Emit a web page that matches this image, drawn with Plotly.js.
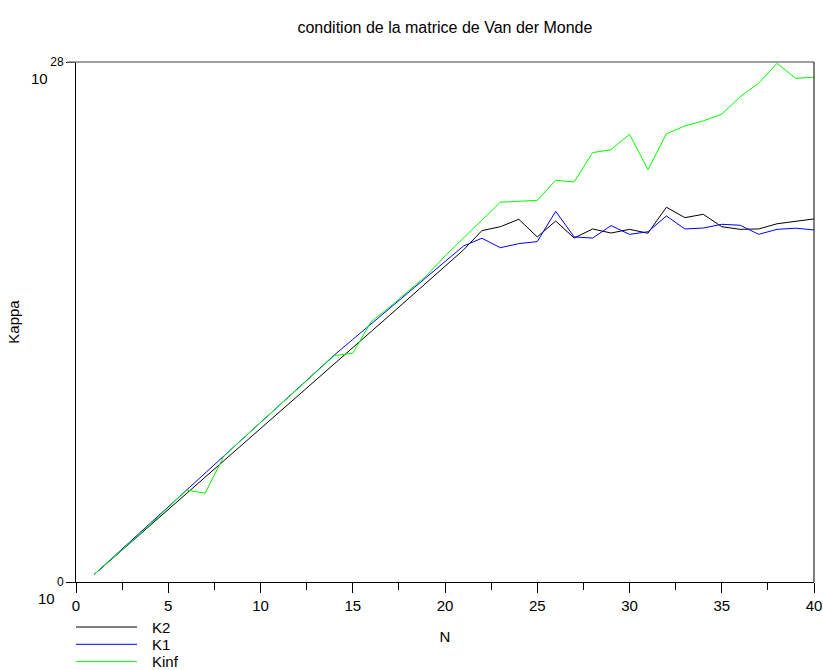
<!DOCTYPE html>
<html>
<head>
<meta charset="utf-8">
<script src="https://cdn.plot.ly/plotly-3.0.1.min.js"></script>
<style>html,body{margin:0;padding:0;background:#fff;}#chart{width:823px;height:670px;}</style>
</head>
<body>
<div id="chart"></div>
<script>
// N values
const N = [1,2,3,4,5,6,7,8,9,10,11,12,13,14,15,16,17,18,19,20,21,22,23,24,25,26,27,28,29,30,31,32,33,34,35,36,37,38,39,40];
// log10 of condition numbers
const K2_log10 = [0.415,1.29,2.16,3.03,3.90,4.77,5.64,6.52,7.39,8.26,9.13,10.01,10.88,11.75,12.62,13.49,14.36,15.23,16.11,16.98,17.88,18.92,19.13,19.53,18.58,19.44,18.52,19.01,18.79,18.99,18.78,20.18,19.62,19.80,19.13,18.99,19.01,19.29,19.40,19.55];
const K1_log10 = [0.415,1.325,2.23,3.14,4.04,4.95,5.86,6.77,7.68,8.58,9.49,10.40,11.31,12.22,13.06,13.90,14.74,15.58,16.42,17.26,18.09,18.51,18.00,18.22,18.33,19.96,18.58,18.52,19.19,18.72,18.86,19.71,19.01,19.06,19.26,19.21,18.72,18.99,19.05,18.96];
const Kinf_log10 = [0.415,1.28,2.18,3.08,4.00,4.95,4.78,6.75,7.68,8.58,9.49,10.40,11.31,12.19,12.32,14.02,14.80,15.64,16.50,17.56,18.52,19.49,20.45,20.50,20.55,21.63,21.54,23.12,23.28,24.11,22.20,24.13,24.56,24.83,25.19,26.13,26.86,27.93,27.12,27.18];
const seriesNames = ['K2','K1','Kinf'];
const seriesColors = ['#000000','#0000ff','#00ff00'];
const yTickExp = [0, 28];
const xTicks = [0,5,10,15,20,25,30,35,40];

const toVal = a => a.map(e => Math.pow(10, e));
const all = [K2_log10, K1_log10, Kinf_log10];
const traces = all.map((s, i) => ({
  x: N, y: toVal(s), type: 'scatter', mode: 'lines', name: seriesNames[i],
  line: {color: seriesColors[i], width: 1}, showlegend: false
}));

const font = 'Liberation Sans, Arial, sans-serif';
const PW = 738, PH = 520;
// manual legend below the plot (paper coordinates)
const legShapes = seriesNames.map((n, i) => ({
  type: 'line', xref: 'paper', yref: 'paper',
  x0: 0, x1: 61 / PW, y0: -(45 + 17.3 * i) / PH, y1: -(45 + 17.3 * i) / PH,
  line: {color: seriesColors[i], width: 1}
}));
const legText = seriesNames.map((n, i) => ({
  text: n, xref: 'paper', yref: 'paper', x: 74 / PW, y: -(45 + 17.3 * i) / PH,
  xanchor: 'left', yanchor: 'middle', showarrow: false, font: {size: 15}
}));

const layout = {
  width: 823, height: 670,
  margin: {l: 76, r: 9, t: 62, b: 88, autoexpand: false},
  paper_bgcolor: '#fff', plot_bgcolor: '#fff',
  font: {family: font, color: '#000', size: 15},
  title: {text: 'condition de la matrice de Van der Monde', font: {size: 16, family: font},
          x: 0.5406, xanchor: 'center', y: 1 - 27/670, yanchor: 'middle'},
  xaxis: {
    range: [0, 40], showgrid: false, zeroline: false,
    showline: true, linecolor: '#000', linewidth: 1,
    ticks: 'outside', ticklen: 10, tickcolor: '#000', tickwidth: 1,
    tickvals: xTicks, ticktext: xTicks.map(String),
    tickfont: {size: 15},
    minor: {dtick: 2.5, tick0: 0, ticks: 'outside', ticklen: 7, tickcolor: '#000', showgrid: false},
    title: {text: 'N', font: {size: 15}, standoff: 18},
    automargin: false
  },
  yaxis: {
    type: 'log', range: [0, 28], showgrid: false, zeroline: false,
    showline: true, linecolor: '#000', linewidth: 1,
    ticks: 'outside', ticklen: 9, tickcolor: '#000', tickwidth: 1,
    tickvals: yTickExp.map(e => Math.pow(10, e)), ticktext: yTickExp.map(String),
    tickfont: {size: 12},
    title: {text: 'Kappa', font: {size: 15}, standoff: 26},
    automargin: false
  },
  showlegend: false,
  shapes: [
    {type: 'line', xref: 'paper', yref: 'paper', x0: -9/PW, x1: 1, y0: 1, y1: 1,
     line: {color: '#808080', width: 1.5}, layer: 'above'},
    {type: 'line', xref: 'paper', yref: 'paper', x0: 1, x1: 1, y0: 0, y1: 1,
     line: {color: '#000', width: 1}, layer: 'above'}
  ].concat(legShapes),
  annotations: [
    {text: '10', xref: 'paper', yref: 'y', x: 0, y: 28, xanchor: 'right', yanchor: 'middle',
     xshift: -26, yshift: -16, showarrow: false, font: {size: 15}},
    {text: '10', xref: 'paper', yref: 'y', x: 0, y: 0, xanchor: 'right', yanchor: 'middle',
     xshift: -19, yshift: -16, showarrow: false, font: {size: 15}}
  ].concat(legText)
};
Plotly.newPlot('chart', traces, layout, {staticPlot: true, displayModeBar: false});
</script>
</body>
</html>
